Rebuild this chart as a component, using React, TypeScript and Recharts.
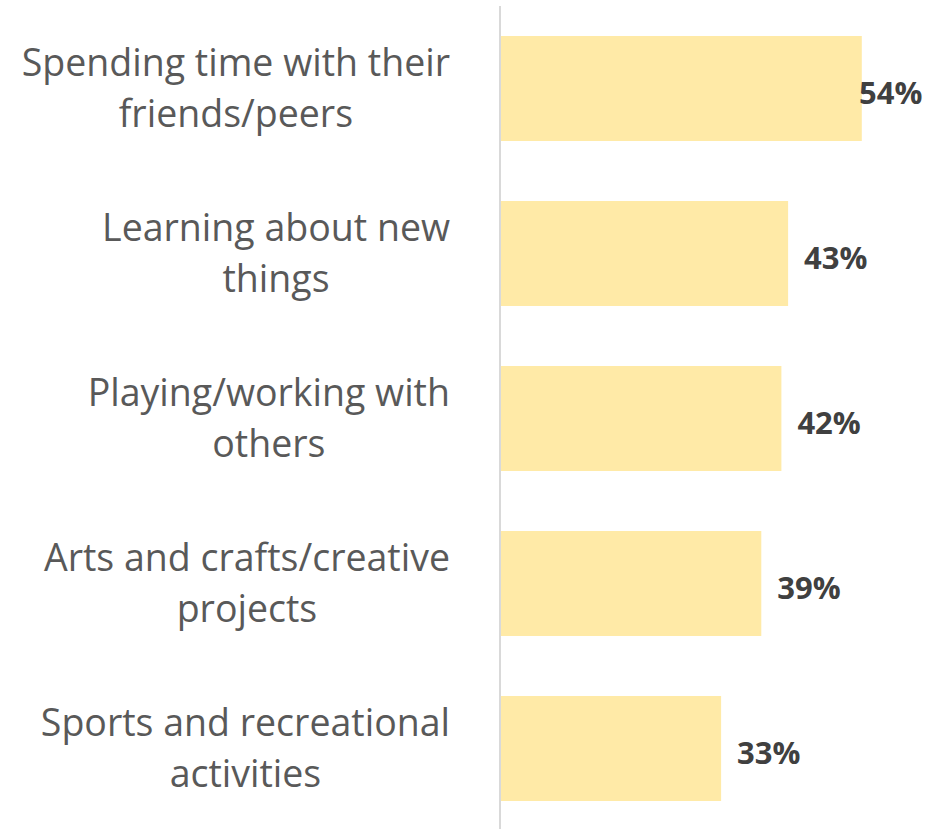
import React from 'react';
import { BarChart, Bar, XAxis, YAxis, LabelList } from 'recharts';

const categories = [
  'Spending time with their\nfriends/peers',
  'Learning about new\nthings',
  'Playing/working with\nothers',
  'Arts and crafts/creative\nprojects',
  'Sports and recreational\nactivities',
];
const values = [54, 43, 42, 39, 33];

const data = categories.map((name, i) => ({ name, value: values[i] }));

const FONT = '"Open Sans", Lato, sans-serif';
const TICK_SIZE = 37.5;

let ctx: CanvasRenderingContext2D | null = null;
function measure(text: string) {
  if (!ctx) ctx = document.createElement('canvas').getContext('2d');
  if (!ctx) return text.length * TICK_SIZE * 0.5;
  ctx.font = `${TICK_SIZE}px ${FONT}`;
  return ctx.measureText(text).width;
}

// two-line category label, lines centred inside a right-aligned block
function CategoryTick(props: any) {
  const { x, y, payload } = props;
  const lines: string[] = String(payload.value).split('\n');
  const lineHeight = 51;
  const blockW = Math.max(...lines.map(measure));
  const cx = x - blockW / 2;
  const startY = y - 2 - ((lines.length - 1) * lineHeight) / 2;
  return (
    <text x={cx} y={startY} textAnchor="middle" fill="#595959" fontFamily={FONT} fontSize={TICK_SIZE}>
      {lines.map((l, i) => (
        <tspan key={i} x={cx} y={startY + i * lineHeight} dominantBaseline="central">
          {l}
        </tspan>
      ))}
    </text>
  );
}

function ValueLabel(props: any) {
  const { x, y, width, height, value } = props;
  const labelW = 63;
  let start = x + width + 16;
  if (start + labelW > 922) start = 922 - labelW;
  return (
    <text
      x={start}
      y={y + height / 2 + 3}
      dominantBaseline="central"
      fill="#404040"
      fontFamily={FONT}
      fontWeight={700}
      fontSize={31}
    >
      {value}%
    </text>
  );
}

export default function App() {
  return (
    <div style={{ position: 'absolute', left: 0, top: 0, width: 948, height: 829, overflow: 'hidden', background: '#fff' }}>
      <BarChart
        width={948}
        height={831}
        data={data}
        layout="vertical"
        margin={{ top: 6, right: 46, bottom: 0, left: 0 }}
      >
        <XAxis type="number" domain={[0, 60]} hide />
        <YAxis
          type="category"
          dataKey="name"
          width={500}
          tickSize={0}
          tickMargin={50}
          axisLine={{ stroke: '#d9d9d9', strokeWidth: 2 }}
          tickLine={false}
          tick={<CategoryTick />}
          interval={0}
        />
        <Bar dataKey="value" fill="#FFEAA7" barSize={105} isAnimationActive={false}>
          <LabelList dataKey="value" content={<ValueLabel />} />
        </Bar>
      </BarChart>
    </div>
  );
}
